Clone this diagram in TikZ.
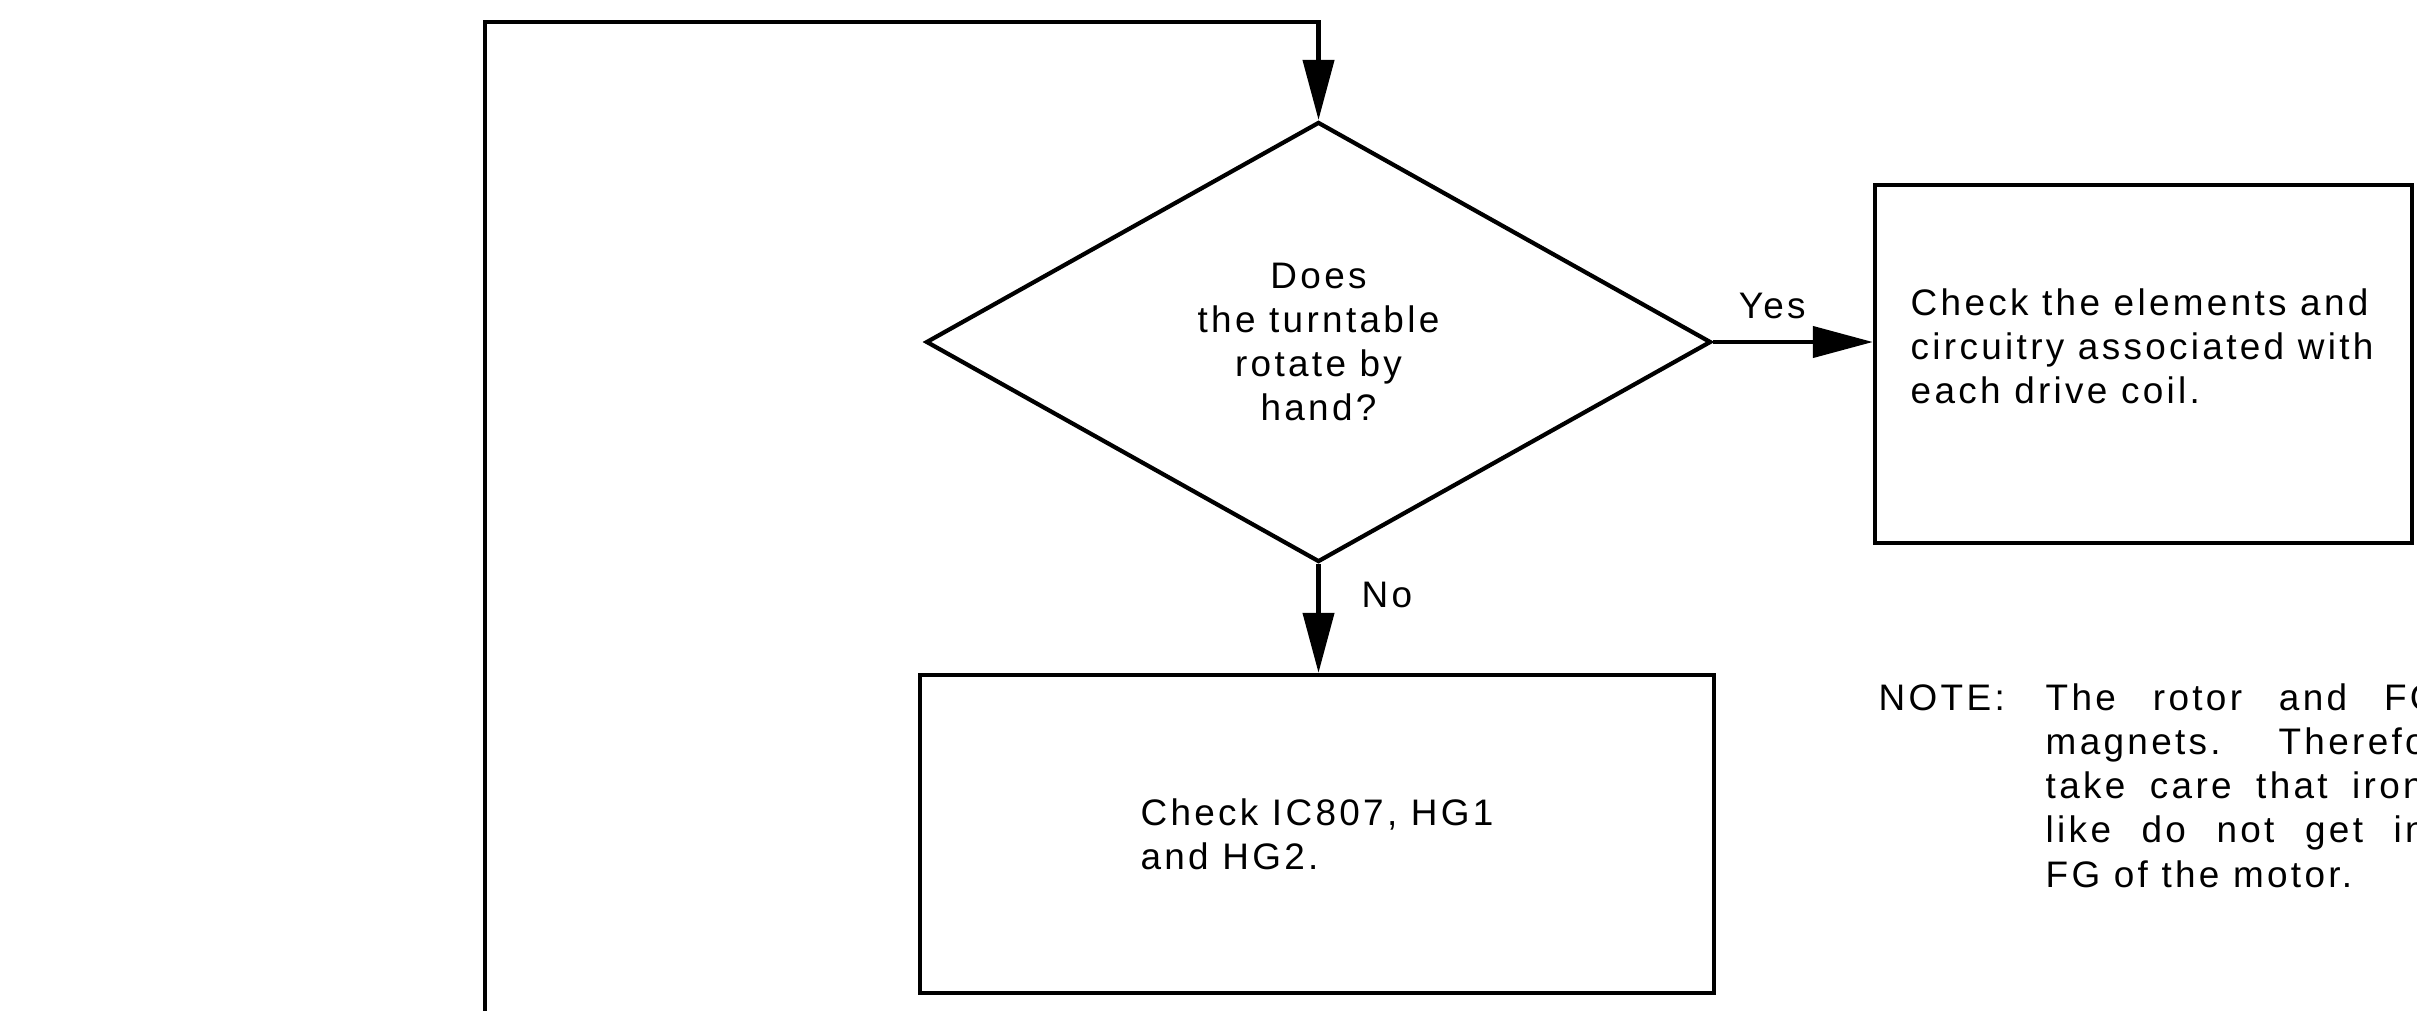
\documentclass[tikz,border=0pt]{standalone}
\usepackage{fontspec}
\setmainfont{Liberation Sans}[LetterSpace=9]
\usetikzlibrary{shapes.geometric,arrows.meta}

\begin{document}
\begin{tikzpicture}[
	every node/.style={font=\fontsize{10.5}{12.6}\selectfont},
	box/.style={draw, line width=1.25pt, inner sep=0pt},
	decision/.style={draw, diamond, line width=1.2pt, inner sep=0pt, align=center},
	flow/.style={line width=1.2pt, -{Triangle[length=6mm, width=3.1mm]}}
]
	\useasboundingbox (0,0) rectangle (24.17,-10.10);
	\clip (0,0) rectangle (24.17,-10.10);

	% Question
	\node[decision, minimum width=7.85cm, minimum height=4.40cm] (ask) at (13.185,-3.42) {Does\\the turntable\\rotate by\\hand?};

	% Boxes
	\node[box, minimum width=5.37cm, minimum height=3.58cm] (coil) at (21.435,-3.64) {};
	\node[anchor=west, align=left, inner sep=0pt] (coiltxt) at (19.10,-3.465) {Check the elements and\\circuitry associated with\\each drive coil.};
	\node[box, minimum width=7.94cm, minimum height=3.18cm, align=left] (hall) at (13.17,-8.34) {Check IC807, HG1\\and HG2.};

	% Note
	\node[anchor=base west, inner sep=0pt] (note) at (18.78,-7.10) {\begin{tabular}[t]{@{}p{1.67cm}@{}l@{}}
		NOTE: & \makebox[3.93cm][s]{The rotor and FG}\\
		& \makebox[3.80cm][s]{magnets.\ \ Therefo}\\
		& \makebox[3.78cm][s]{take care that iron}\\
		& \makebox[3.80cm][s]{like do not get in}\\
		& FG of the motor.
	\end{tabular}};

	% Connectors
	\coordinate (loopin) at (4.85,-10.30);
	\coordinate (looptop) at (4.85,-0.22);
	\draw[flow] (loopin) -- (looptop) -| (ask.north);
	\draw[flow] (ask.east) -- node[above=0.21cm, inner sep=0pt, pos=0.37] (yes) {Yes} (ask.east -| coil.west);
	\draw[flow] (ask.south) -- node[right=0.41cm, inner sep=0pt, pos=0.28] (no) {No} (ask.south |- hall.north);
\end{tikzpicture}
\end{document}
